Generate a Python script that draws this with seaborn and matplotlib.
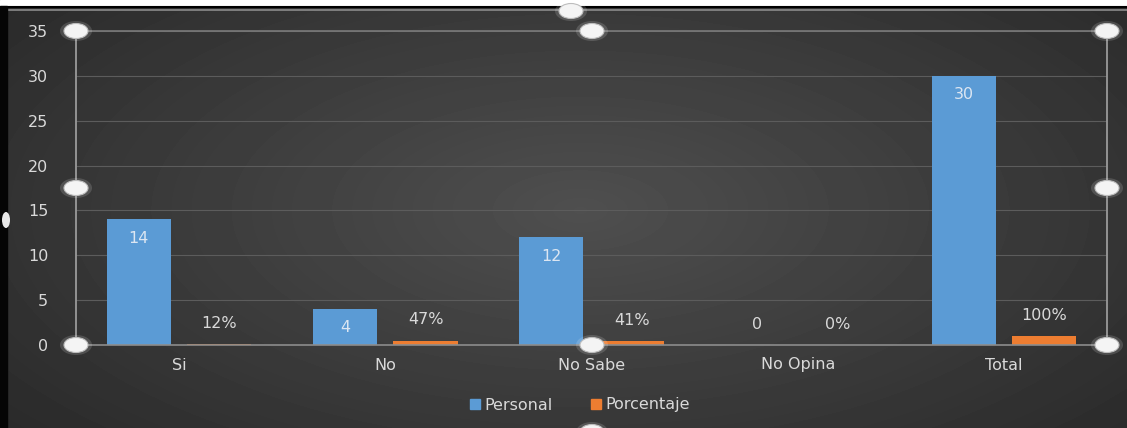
import numpy as np
import pandas as pd
import matplotlib
matplotlib.use("Agg")
import matplotlib.pyplot as plt
import seaborn as sns
from matplotlib.patches import Ellipse, Rectangle

# ---------------- data ----------------
categories = ["Si", "No", "No Sabe", "No Opina", "Total"]
series = ["Personal", "Porcentaje"]
personal = [14, 4, 12, 0, 30]
porcentaje = [0.12, 0.47, 0.41, 0.0, 1.0]
personal_labels = ["14", "4", "12", "0", "30"]
porcentaje_labels = ["12%", "47%", "41%", "0%", "100%"]
yticks = [0, 5, 10, 15, 20, 25, 30, 35]

colors = ["#5b9bd5", "#ed7d31"]
text_col = "#d9d9d9"
fs = 11.5

sns.set_theme(style="dark")
plt.rcParams["font.family"] = ["DejaVu Sans"]

W, H = 1127, 428
fig = plt.figure(figsize=(W / 100, H / 100), dpi=100)

# ---------------- background (radial dark gradient) ----------------
bg = fig.add_axes([0, 0, 1, 1], zorder=0)
yy, xx = np.mgrid[0:H, 0:W]
r = np.sqrt(((xx - 580) / 720.0) ** 2 + ((yy - 210) / 330.0) ** 2)
val = 0.31 - 0.14 * np.clip(r, 0, 1.1)
bg.imshow(val, cmap="gray", vmin=0, vmax=1, extent=[0, W, H, 0], aspect="auto",
          interpolation="bilinear")
bg.add_patch(Rectangle((0, 0), W, 6, color="white", zorder=2))
bg.plot([0, W], [6.5, 6.5], color="black", lw=1.5, zorder=3)
bg.plot([0, W], [9.5, 9.5], color="#8c8c8c", lw=1.2, zorder=3)
bg.add_patch(Rectangle((0, 6), 7, H, color="#050505", zorder=3))
bg.set_xlim(0, W)
bg.set_ylim(H, 0)
bg.axis("off")

# ---------------- main chart ----------------
ax = fig.add_axes([76 / W, 1 - 345 / H, (1107 - 76) / W, (345 - 31) / H], zorder=1)
ax.patch.set_alpha(0)

df = pd.DataFrame({
    "Categoria": categories * 2,
    "Serie": [series[0]] * len(categories) + [series[1]] * len(categories),
    "Valor": personal + porcentaje,
})
sns.barplot(data=df, x="Categoria", y="Valor", hue="Serie", order=categories,
            hue_order=series, palette=colors, width=0.78, gap=0.2,
            saturation=1, ax=ax, legend=False, edgecolor="none")

ax.set_xlim(-0.5, len(categories) - 0.5)
ax.set_ylim(0, 35)
ax.set_yticks(yticks)
ax.set_xlabel("")
ax.set_ylabel("")
ax.yaxis.grid(True, color="#5c5c5c", lw=0.8)
ax.xaxis.grid(False)
ax.set_axisbelow(True)
ax.tick_params(axis="y", length=0, pad=20, labelsize=fs, labelcolor=text_col)
ax.tick_params(axis="x", length=0, pad=9, labelsize=fs, labelcolor=text_col)
for side in ["left", "right"]:
    ax.spines[side].set_visible(True)
    ax.spines[side].set_color("#9a9a9a")
    ax.spines[side].set_linewidth(1.3)
ax.spines["bottom"].set_color("#8c8c8c")
ax.spines["bottom"].set_linewidth(1.2)
ax.spines["top"].set_visible(True)
ax.spines["top"].set_color("#7a7a7a")
ax.spines["top"].set_linewidth(1.2)

# data labels
for ci, cont in enumerate(ax.containers):
    labels = personal_labels if ci == 0 else porcentaje_labels
    vals = personal if ci == 0 else porcentaje
    for bar, lab, v in zip(cont, labels, vals):
        x = bar.get_x() + bar.get_width() / 2
        top = bar.get_height()
        if ci == 0 and v > 0:
            off = -13.5
            col = "#dce6f2"
        else:
            off = 15
            col = text_col
        ax.annotate(lab, (x, top), xytext=(0, off), textcoords="offset points",
                    ha="center", va="center", fontsize=fs, color=col, zorder=5)

# legend
handles = [Rectangle((0, 0), 1, 1, color=c) for c in colors]
fig.legend(handles, series, loc="center", bbox_to_anchor=(580 / W, 1 - 405 / H),
           ncol=2, frameon=False, handlelength=0.6, handleheight=0.6,
           handletextpad=0.3, columnspacing=2.4, fontsize=fs, labelcolor=text_col)

# ---------------- selection handles overlay ----------------
ov = fig.add_axes([0, 0, 1, 1], zorder=3)
ov.patch.set_alpha(0)
ov.set_xlim(0, W)
ov.set_ylim(H, 0)
ov.axis("off")
handle_pts = [(76, 31), (592, 31), (1107, 31), (76, 188), (1107, 188),
              (76, 345), (592, 345), (1107, 345), (571, 11), (592, 432)]
for (hx, hy) in handle_pts:
    ov.add_patch(Ellipse((hx, hy), 32, 20, color="white", alpha=0.15, lw=0))
    ov.add_patch(Ellipse((hx, hy), 24, 15, facecolor="#f4f4f4",
                         edgecolor="#bdbdbd", lw=0.8))
ov.add_patch(Ellipse((6, 220), 8, 16, facecolor="#e8e8e8", edgecolor="none"))

fig.savefig("out.png", dpi=100, facecolor=fig.get_facecolor())
